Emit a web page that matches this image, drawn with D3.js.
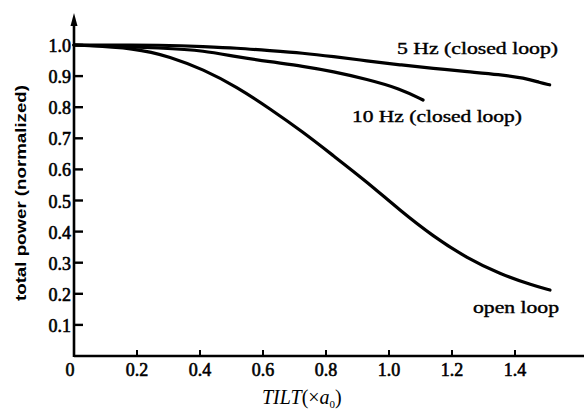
<!DOCTYPE html>
<html><head><meta charset="utf-8">
<script src="https://cdn.jsdelivr.net/npm/d3@7"></script>
<style>body{margin:0;background:#fff}svg{display:block}</style>
</head><body>
<svg id="c" width="584" height="411"></svg>
<script>
const xTicks = [0.2, 0.4, 0.6, 0.8, 1.0, 1.2, 1.4];
const xTickLabels = ["0.2", "0.4", "0.6", "0.8", "1.0", "1.2", "1.4"];
const yTicks = [0.1, 0.2, 0.3, 0.4, 0.5, 0.6, 0.7, 0.8, 0.9, 1.0];
const yTickLabels = ["0.1", "0.2", "0.3", "0.4", "0.5", "0.6", "0.7", "0.8", "0.9", "1.0"];

const tiltOpen = [0, 0.2, 0.305, 0.41, 0.517, 0.622, 0.727, 0.822, 0.93, 1.035, 1.14, 1.247, 1.352, 1.457, 1.511];
const powerOpen = [1.0, 0.99, 0.962, 0.922, 0.865, 0.795, 0.72, 0.645, 0.56, 0.468, 0.385, 0.315, 0.264, 0.227, 0.212];

const tilt5Hz = [0, 0.3, 0.41, 0.517, 0.622, 0.727, 0.822, 0.93, 1.035, 1.14, 1.25, 1.35, 1.43, 1.48, 1.51];
const power5Hz = [1.0, 1.0, 0.995, 0.99, 0.982, 0.974, 0.963, 0.949, 0.936, 0.925, 0.914, 0.905, 0.894, 0.879, 0.872];

const tilt10Hz = [0, 0.3, 0.41, 0.517, 0.622, 0.727, 0.822, 0.93, 1.035, 1.108];
const power10Hz = [1.0, 0.99, 0.982, 0.962, 0.946, 0.932, 0.915, 0.89, 0.86, 0.823];

const svg = d3.select("#c");
const x = d3.scaleLinear().domain([0, 1.6]).range([74, 578]);
const y = d3.scaleLinear().domain([0, 1]).range([356, 45]);

const serif = "Liberation Serif, Times New Roman, serif";

// axes
svg.append("line").attr("x1", x(0)).attr("x2", 584).attr("y1", y(0)).attr("y2", y(0))
  .attr("stroke", "#000").attr("stroke-width", 2.6);
svg.append("line").attr("x1", x(0)).attr("x2", x(0)).attr("y1", y(0) + 1).attr("y2", 22)
  .attr("stroke", "#000").attr("stroke-width", 2.6);
svg.append("path").attr("d", `M${x(0)},13 L${x(0) - 3.5},26 L${x(0) + 3.5},26 Z`).attr("fill", "#000");

// y ticks
const yg = svg.append("g");
yg.selectAll("line").data(yTicks).join("line")
  .attr("x1", x(0)).attr("x2", x(0) + 9).attr("y1", d => y(d)).attr("y2", d => y(d))
  .attr("stroke", "#000").attr("stroke-width", 2.4);
yg.selectAll("text").data(yTicks).join("text")
  .attr("x", 71).attr("y", d => y(d) + 7)
  .attr("text-anchor", "end").style("font-family", serif)
  .attr("font-size", 18).attr("stroke", "#000").attr("stroke-width", 0.6)
  .text((d, i) => yTickLabels[i]);

// x ticks
const xg = svg.append("g");
xg.selectAll("line").data(xTicks).join("line")
  .attr("x1", d => x(d)).attr("x2", d => x(d)).attr("y1", y(0)).attr("y2", y(0) - 6)
  .attr("stroke", "#000").attr("stroke-width", 2);
xg.selectAll("text").data(xTicks).join("text")
  .attr("x", d => x(d)).attr("y", 376)
  .attr("text-anchor", "middle").style("font-family", serif)
  .attr("font-size", 18).attr("stroke", "#000").attr("stroke-width", 0.6)
  .text((d, i) => xTickLabels[i]);
svg.append("text").attr("x", 70).attr("y", 376).attr("text-anchor", "middle")
  .style("font-family", serif).attr("font-size", 18)
  .attr("stroke", "#000").attr("stroke-width", 0.6).text("0");

// axis titles
const xt = svg.append("text").attr("x", 262).attr("y", 404)
  .style("font-family", serif).attr("font-size", 20);
xt.append("tspan").attr("font-style", "italic").text("TILT");
xt.append("tspan").text("(×");
xt.append("tspan").attr("font-style", "italic").text("a");
xt.append("tspan").attr("font-size", 11).attr("dy", 4).text("0");
xt.append("tspan").attr("dy", -4).text(")");

svg.append("text").attr("transform", "translate(26,193) rotate(-90)")
  .attr("text-anchor", "middle").style("font-family", "Liberation Sans, Arial, sans-serif")
  .attr("font-weight", "bold").attr("font-size", 14.5).attr("textLength", 216)
  .attr("lengthAdjust", "spacingAndGlyphs")
  .text("total power (normalized)");

// curves
const line = d3.line().x(d => x(d[0])).y(d => y(d[1])).curve(d3.curveBasis);
const series = [
  [tiltOpen, powerOpen],
  [tilt5Hz, power5Hz],
  [tilt10Hz, power10Hz]
];
svg.selectAll("path.curve").data(series).join("path").attr("class", "curve")
  .attr("d", s => line(s[0].map((t, i) => [t, s[1][i]])))
  .attr("fill", "none").attr("stroke", "#000").attr("stroke-width", 3.2)
  .attr("stroke-linecap", "round");

// curve labels
const lab = (tx, ty, w, str) => svg.append("text").attr("x", tx).attr("y", ty)
  .style("font-family", serif).attr("font-size", 17)
  .attr("stroke", "#000").attr("stroke-width", 0.4)
  .attr("textLength", w).attr("lengthAdjust", "spacingAndGlyphs").text(str);
lab(397, 54, 161, "5 Hz (closed loop)");
lab(352, 122, 170, "10 Hz (closed loop)");
lab(473, 313, 86, "open loop");
</script>
</body></html>
